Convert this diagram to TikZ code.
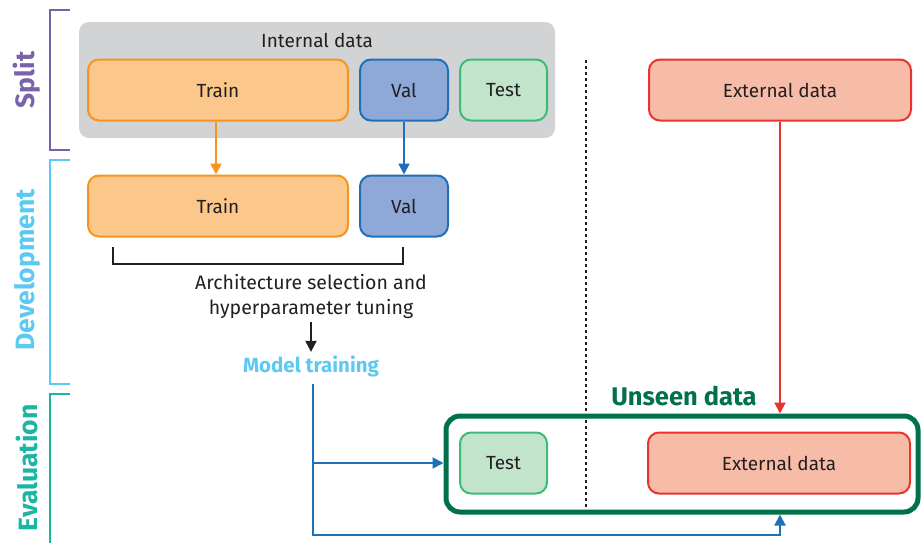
\documentclass[tikz,border=0pt]{standalone}
\usepackage{fontspec}
\setmainfont{Fira Sans}
\usetikzlibrary{arrows.meta}
\definecolor{trainline}{HTML}{F7941D}
\definecolor{trainfill}{HTML}{FBC78A}
\definecolor{valline}{HTML}{1F70B8}
\definecolor{valfill}{HTML}{8EA9D8}
\definecolor{testline}{HTML}{3CBB78}
\definecolor{testfill}{HTML}{C1E4CA}
\definecolor{extline}{HTML}{E8332E}
\definecolor{extfill}{HTML}{F7BCA7}
\definecolor{graybox}{HTML}{D2D3D5}
\definecolor{splitc}{HTML}{7A62AA}
\definecolor{devc}{HTML}{5CC9F2}
\definecolor{evalc}{HTML}{1BB5A4}
\definecolor{unseen}{HTML}{00714A}
\definecolor{ink}{HTML}{231F20}
\tikzset{
  box/.style={rounded corners=11pt, line width=2pt, font=\fontsize{19}{21}\selectfont, text=ink, inner sep=0pt},
  trainbox/.style={box, draw=trainline, fill=trainfill, minimum width=260pt, minimum height=61pt},
  valbox/.style={box, draw=valline, fill=valfill, minimum width=88pt, minimum height=61pt},
  testbox/.style={box, draw=testline, fill=testfill, minimum width=87pt, minimum height=61pt},
  extbox/.style={box, draw=extline, fill=extfill, minimum width=262pt, minimum height=61pt},
  flow/.style={line width=2pt, -{Triangle[length=11pt, width=11pt]}},
  phase/.style={font=\fontsize{26.5}{28}\selectfont\bfseries, rotate=90},
  bracketline/.style={line width=2.4pt}
}
\begin{document}
\begin{tikzpicture}[x=1pt, y=-1pt]
\useasboundingbox (0,0) rectangle (923,542);

% phase brackets on the left
\draw[bracketline, splitc] (70,10) -- (50,10) -- (50,150) -- (70,150);
\node[phase, text=splitc] (lsplit) at (27,80) {Split};
\draw[bracketline, devc] (70,160) -- (50,160) -- (50,384) -- (70,384);
\node[phase, text=devc] (ldev) at (27,270) {Development};
\draw[bracketline, evalc] (70,394) -- (50,394) -- (50,545);
\node[phase, text=evalc] (leval) at (27,468) {Evaluation};

% internal data split
\node[fill=graybox, rounded corners=10pt, minimum width=476pt, minimum height=116pt] (internal) at (317,80) {};
\node[font=\fontsize{19}{21}\selectfont, text=ink] (internallabel) at (317,40) {Internal data};
\node[trainbox] (train1) at (218,90) {Train};
\node[valbox] (val1) at (404,90) {Val};
\node[testbox] (test1) at (503.5,90) {Test};
\node[extbox] (ext1) at (780,90) {External data};

% separator between internal and external data
\coordinate (septop) at (586,60);
\coordinate (sepbot) at (586,515);
\draw[line width=2.4pt, dash pattern=on 3pt off 3pt, ink] (septop) -- (sepbot);

% development
\node[trainbox] (train2) at (218,206) {Train};
\node[valbox] (val2) at (404,206) {Val};
\draw[flow, trainline] (train1.south -| 216,0) -- (train2.north -| 216,0);
\draw[flow, valline] (val1) -- (val2);

\coordinate (brl) at (113,247);
\coordinate (brr) at (403,247);
\draw[line width=2.2pt, ink] (brl) -- (113,264) -- (403,264) -- (brr);
\node[font=\fontsize{19.5}{25}\selectfont, text=ink, align=center] (arch) at (311,296) {Architecture selection and\\hyperparameter tuning};
\node[font=\fontsize{20.5}{22}\selectfont\bfseries, text=devc] (model) at (311,366) {Model training};
\draw[flow, ink] (arch) -- (model);

% evaluation on unseen data
\node[draw=unseen, line width=5pt, rounded corners=14pt, minimum width=472pt, minimum height=96pt] (unseenbox) at (682,464) {};
\node[font=\fontsize{25.5}{27}\selectfont\bfseries, text=unseen] (unseenlabel) at (684,396) {Unseen data};
\node[testbox] (test2) at (503.5,463) {Test};
\node[extbox] (ext2) at (779,463) {External data};

\draw[flow, extline] (ext1) -- (ext1 |- unseenbox.north);
\coordinate (mt) at (313,384);
\draw[line width=2pt, valline] (mt) -- (313,535) -- (780,535);
\draw[flow, valline] (780,535.9) -- (unseenbox.south -| 780,0);
\draw[flow, valline] (313,463) -- (unseenbox.west |- 0,463);
\end{tikzpicture}
\end{document}
